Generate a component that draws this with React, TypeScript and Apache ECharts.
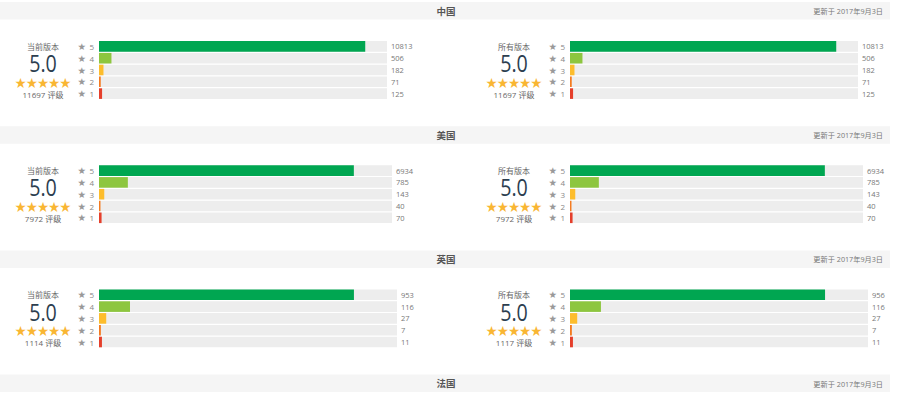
import React, { useEffect, useRef } from "react";
import * as echarts from "echarts";

const regions = ["中国", "美国", "英国", "法国"];
const updatedText = "更新于 2017年9月3日";
const versionLabels = ["当前版本", "所有版本"];
const starLevels = ["5", "4", "3", "2", "1"];
const ratingText = ["5.0", "5.0", "5.0"];
const cnCurrent = [10813, 506, 182, 71, 125];
const cnAll = [10813, 506, 182, 71, 125];
const usCurrent = [6934, 785, 143, 40, 70];
const usAll = [6934, 785, 143, 40, 70];
const ukCurrent = [953, 116, 27, 7, 11];
const ukAll = [956, 116, 27, 7, 11];
const barColors = ["#00a651", "#8dc63f", "#fdbd2c", "#f47b20", "#e53f2b"];

const sections = [
  [cnCurrent, cnAll],
  [usCurrent, usAll],
  [ukCurrent, ukAll],
];

const FONT = "'Open Sans', 'Noto Sans CJK SC', sans-serif";

export default function App() {
  const ref = useRef<HTMLDivElement>(null);
  useEffect(() => {
    document.body.style.margin = "0";
    const chart = echarts.init(ref.current!, null, { renderer: "svg" });
    const step = 124.2;
    const trackRight = [387, 392, 397];
    const sideOffset = 471;
    const grids: any[] = [];
    const xAxes: any[] = [];
    const yAxes: any[] = [];
    const series: any[] = [];
    const graphic: any[] = [];

    regions.forEach((name, s) => {
      const hy = 2 + s * step;
      graphic.push({
        type: "rect",
        shape: { x: 0, y: hy, width: 890, height: 17.5 },
        style: { fill: "#f5f5f5" },
        silent: true,
      });
      graphic.push({
        type: "text",
        x: 446,
        y: hy + 9,
        style: {
          text: name,
          fill: "#555",
          font: `bold 9.5px ${FONT}`,
          textAlign: "center",
          textVerticalAlign: "middle",
        },
      });
      graphic.push({
        type: "text",
        x: 883,
        y: hy + 9,
        style: {
          text: updatedText,
          fill: "#777",
          font: `7.2px ${FONT}`,
          textAlign: "right",
          textVerticalAlign: "middle",
        },
      });
    });

    sections.forEach((pair, s) => {
      pair.forEach((counts, k) => {
        const g = grids.length;
        const total = counts.reduce((a, b) => a + b, 0);
        const top = 40.5 + s * step;
        grids.push({
          left: 99 + k * sideOffset,
          top,
          width: trackRight[s] - 99,
          height: 59,
        });
        xAxes.push({ gridIndex: g, type: "value", min: 0, max: total, show: false });
        const leftIdx = yAxes.length;
        yAxes.push({
          gridIndex: g,
          type: "category",
          data: starLevels,
          inverse: true,
          axisLine: { show: false },
          axisTick: { show: false },
          splitLine: { show: false },
          axisLabel: {
            interval: 0,
            margin: 5,
            formatter: (v: string) => `{s|★} {n|${v}}`,
            rich: {
              s: { fontFamily: "DejaVu Sans", fontSize: 9.5, color: "#999" },
              n: { fontFamily: FONT, fontSize: 8, color: "#888" },
            },
          },
        });
        yAxes.push({
          gridIndex: g,
          type: "category",
          position: "right",
          data: counts.map(String),
          inverse: true,
          axisLine: { show: false },
          axisTick: { show: false },
          splitLine: { show: false },
          axisLabel: { interval: 0, margin: 4, color: "#777", fontSize: 7.5, fontFamily: FONT },
        });
        series.push({
          type: "bar",
          xAxisIndex: g,
          yAxisIndex: leftIdx,
          data: counts.map((v, i) => ({ value: v, itemStyle: { color: barColors[i] } })),
          barWidth: 10.6,
          showBackground: true,
          backgroundStyle: { color: "#ededed" },
          silent: true,
        });

        const cx = 43 + k * sideOffset;
        graphic.push({
          type: "text",
          x: cx,
          y: top + 6,
          style: {
            text: versionLabels[k],
            fill: "#666",
            font: `8px ${FONT}`,
            textAlign: "center",
            textVerticalAlign: "middle",
          },
        });
        graphic.push({
          type: "text",
          x: cx,
          y: top + 22.5,
          scaleX: 0.82,
          style: {
            text: ratingText[s],
            fill: "#2c3e50",
            font: `24px ${FONT}`,
            textAlign: "center",
            textVerticalAlign: "middle",
          },
        });
        graphic.push({
          type: "text",
          x: cx,
          y: top + 41.5,
          style: {
            text: "★★★★★",
            fill: "#f9b633",
            font: `11.2px 'Noto Sans CJK SC'`,
            textAlign: "center",
            textVerticalAlign: "middle",
          },
        });
        graphic.push({
          type: "text",
          x: cx,
          y: top + 53.5,
          style: {
            text: `${total} 评级`,
            fill: "#666",
            font: `8px ${FONT}`,
            textAlign: "center",
            textVerticalAlign: "middle",
          },
        });
      });
    });

    chart.setOption({
      animation: false,
      grid: grids,
      xAxis: xAxes,
      yAxis: yAxes,
      series,
      graphic,
    });
    return () => chart.dispose();
  }, []);
  return <div ref={ref} style={{ width: 898, height: 395 }} />;
}
